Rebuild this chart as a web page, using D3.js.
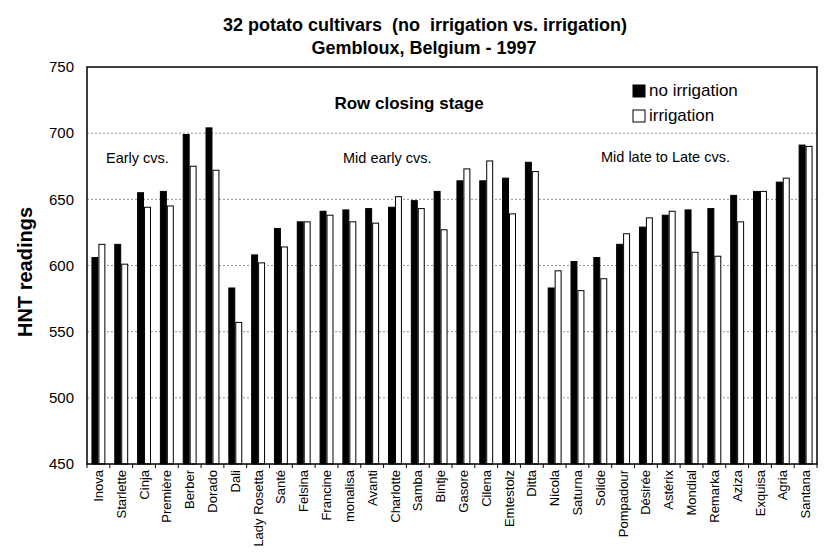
<!DOCTYPE html>
<html>
<head>
<meta charset="utf-8">
<script src="https://cdn.jsdelivr.net/npm/d3@7"></script>
<style>
  body { margin: 0; background: #fff; }
  svg { font-family: "Liberation Sans", Arial, sans-serif; }
</style>
</head>
<body>
<svg id="chart"></svg>
<script>
// cultivars, in plot order
const cultivars = ['Inova', 'Starlette', 'Cinja', 'Première', 'Berber', 'Dorado', 'Dali', 'Lady Rosetta',
  'Santé', 'Felsina', 'Francine', 'monalisa', 'Avanti', 'Charlotte', 'Samba', 'Bintje',
  'Gasore', 'Cilena', 'Emtestolz', 'Ditta', 'Nicola', 'Saturna', 'Solide', 'Pompadour',
  'Désirée', 'Astérix', 'Mondial', 'Remarka', 'Aziza', 'Exquisa', 'Agria', 'Santana'];

const noIrrigation = [606, 616, 655, 656, 699, 704, 583, 608,
  628, 633, 641, 642, 643, 644, 649, 656,
  664, 664, 666, 678, 583, 603, 606, 616,
  629, 638, 642, 643, 653, 656, 663, 691];

const irrigation = [616, 601, 644, 645, 675, 672, 557, 602,
  614, 633, 638, 633, 632, 652, 643, 627,
  673, 679, 639, 671, 596, 581, 590, 624,
  636, 641, 610, 607, 633, 656, 666, 690];

const seriesNames = ['no irrigation', 'irrigation'];
const yTicks = [450, 500, 550, 600, 650, 700, 750];

const width = 825, height = 555;
const margin = { top: 67, right: 8, bottom: 91, left: 87 };
const plotW = width - margin.left - margin.right;
const plotH = height - margin.top - margin.bottom;

const svg = d3.select('#chart')
  .attr('width', width)
  .attr('height', height);

const g = svg.append('g')
  .attr('transform', `translate(${margin.left},${margin.top})`);

const x = d3.scaleBand()
  .domain(cultivars)
  .range([0, plotW])
  .paddingInner(0.39)
  .paddingOuter(0.195);

const xs = d3.scaleBand()
  .domain(seriesNames)
  .range([0, x.bandwidth()]);

const y = d3.scaleLinear()
  .domain([450, 750])
  .range([plotH, 0]);

// dotted gridlines
g.append('g')
  .selectAll('line')
  .data(yTicks.slice(1, -1))
  .join('line')
  .attr('x1', 0)
  .attr('x2', plotW)
  .attr('y1', d => y(d))
  .attr('y2', d => y(d))
  .attr('stroke', '#777')
  .attr('stroke-width', 0.8)
  .attr('stroke-dasharray', '2,2');

// bars
const rows = cultivars.map((c, i) => ({ c, vals: [noIrrigation[i], irrigation[i]] }));

const groups = g.append('g')
  .selectAll('g')
  .data(rows)
  .join('g')
  .attr('transform', d => `translate(${x(d.c)},0)`);

groups.selectAll('rect')
  .data(d => d.vals.map((v, k) => ({ s: seriesNames[k], v })))
  .join('rect')
  .attr('x', d => xs(d.s) + 0.5)
  .attr('y', d => y(d.v))
  .attr('width', xs.bandwidth() - 1)
  .attr('height', d => plotH - y(d.v))
  .attr('fill', d => d.s === 'no irrigation' ? '#000' : '#fff')
  .attr('stroke', '#000')
  .attr('stroke-width', 1);

// y axis
const yAxis = d3.axisLeft(y)
  .tickValues(yTicks)
  .tickSize(0)
  .tickPadding(13);

g.append('g')
  .call(yAxis)
  .call(a => a.select('.domain').remove())
  .selectAll('text')
  .attr('font-size', 15)
  .attr('font-family', '"Liberation Sans", Arial, sans-serif')
  .attr('fill', '#000');

// x axis labels
const xAxis = d3.axisBottom(x)
  .tickSize(0)
  .tickPadding(0);

g.append('g')
  .attr('transform', `translate(0,${plotH})`)
  .call(xAxis)
  .call(a => a.select('.domain').remove())
  .selectAll('text')
  .attr('font-size', 13)
  .attr('font-family', '"Liberation Sans", Arial, sans-serif')
  .attr('fill', '#000')
  .attr('transform', 'translate(0,6) rotate(-90)')
  .attr('dy', '0.35em')
  .attr('y', 0)
  .attr('x', 0)
  .style('text-anchor', 'end');

// ticks between categories
const step = x.step();
g.append('g')
  .selectAll('line')
  .data(d3.range(cultivars.length + 1))
  .join('line')
  .attr('x1', i => i * step)
  .attr('x2', i => i * step)
  .attr('y1', plotH)
  .attr('y2', plotH + 4)
  .attr('stroke', '#000');

// frame
g.append('rect')
  .attr('width', plotW)
  .attr('height', plotH)
  .attr('fill', 'none')
  .attr('stroke', '#000')
  .attr('stroke-width', 1.5);

// titles
svg.append('text')
  .attr('x', 425)
  .attr('y', 31)
  .attr('text-anchor', 'middle')
  .attr('font-size', 18)
  .attr('font-weight', 'bold')
  .style('white-space', 'pre')
  .text('32 potato cultivars  (no  irrigation vs. irrigation)');

svg.append('text')
  .attr('x', 424)
  .attr('y', 54)
  .attr('text-anchor', 'middle')
  .attr('font-size', 18)
  .attr('font-weight', 'bold')
  .text('Gembloux, Belgium - 1997');

svg.append('text')
  .attr('transform', 'translate(32,272) rotate(-90)')
  .attr('text-anchor', 'middle')
  .attr('font-size', 20)
  .attr('font-weight', 'bold')
  .text('HNT readings');

// annotations inside the plot
svg.append('text')
  .attr('x', 409)
  .attr('y', 109)
  .attr('text-anchor', 'middle')
  .attr('font-size', 17)
  .attr('font-weight', 'bold')
  .text('Row closing stage');

const notes = [
  { t: 'Early cvs.', x: 106, y: 163 },
  { t: 'Mid early cvs.', x: 343, y: 163 },
  { t: 'Mid late to Late cvs.', x: 601, y: 162 }
];
svg.append('g')
  .selectAll('text')
  .data(notes)
  .join('text')
  .attr('x', d => d.x)
  .attr('y', d => d.y)
  .attr('font-size', 14.5)
  .text(d => d.t);

// legend
const legend = svg.append('g')
  .attr('transform', 'translate(633,84)');

legend.selectAll('rect')
  .data(seriesNames)
  .join('rect')
  .attr('x', 0)
  .attr('y', (d, i) => i * 25 + 1)
  .attr('width', 12)
  .attr('height', 12)
  .attr('fill', (d, i) => i === 0 ? '#000' : '#fff')
  .attr('stroke', '#000');

legend.selectAll('text')
  .data(seriesNames)
  .join('text')
  .attr('x', 16)
  .attr('y', (d, i) => i * 25 + 12)
  .attr('font-size', 17)
  .text(d => d);
</script>
</body>
</html>
